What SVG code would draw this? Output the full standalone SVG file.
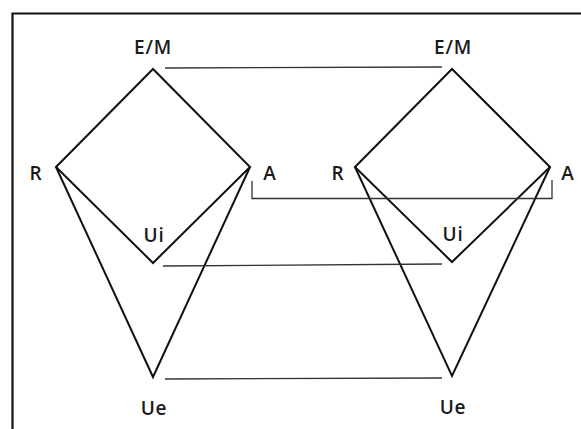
<svg xmlns="http://www.w3.org/2000/svg" width="581" height="429" viewBox="0 0 581 429">
<style>
.frame{stroke:#111;stroke-width:2.2;fill:none}
.edge{stroke:#111;stroke-width:2;fill:none;stroke-linejoin:miter}
.conn{stroke:#333;stroke-width:1.3;fill:none}
.lbl{font-family:"Open Sans","Liberation Sans",sans-serif;font-size:19px;font-weight:600;letter-spacing:0.8px;fill:#1a1a1a}
</style>
<rect width="581" height="429" fill="#fff"/>
<path class="frame" d="M12.5,429 V13.5 H581"/>
<g id="left-model">
<path class="edge" d="M56,167 L153,69 L250,167 L153,263 Z"/>
<path class="edge" d="M56,167 L153,377 L250,167"/>
</g>
<g id="right-model">
<path class="edge" d="M355,167 L452,69 L550,167 L452,262 Z"/>
<path class="edge" d="M355,167 L452,376 L550,167"/>
</g>
<g id="labels">
<text id="EM-left" class="lbl" x="153" y="54" text-anchor="middle">E/M</text>
<text id="R-left" class="lbl" x="36" y="180" text-anchor="middle">R</text>
<text id="A-left" class="lbl" x="270" y="180" text-anchor="middle">A</text>
<text id="Ui-left" class="lbl" x="154" y="242" text-anchor="middle">Ui</text>
<text id="Ue-left" class="lbl" x="154" y="415" text-anchor="middle">Ue</text>
<text id="EM-right" class="lbl" x="453" y="54" text-anchor="middle">E/M</text>
<text id="R-right" class="lbl" x="338" y="180" text-anchor="middle">R</text>
<text id="A-right" class="lbl" x="568" y="180" text-anchor="middle">A</text>
<text id="Ui-right" class="lbl" x="453" y="241" text-anchor="middle">Ui</text>
<text id="Ue-right" class="lbl" x="453" y="414" text-anchor="middle">Ue</text>
</g>
<g id="connectors">
<line class="conn" x1="165" y1="68" x2="442" y2="67"/>
<path class="conn" d="M252,181 V198.5 H552 V180"/>
<line class="conn" x1="163" y1="266" x2="442" y2="264"/>
<line class="conn" x1="165" y1="379" x2="442" y2="378"/>
</g>
</svg>
